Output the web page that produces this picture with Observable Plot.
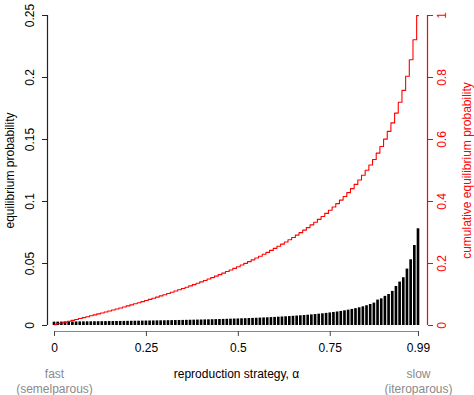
<!DOCTYPE html>
<html>
<head>
<meta charset="utf-8">
<script src="https://cdn.jsdelivr.net/npm/d3@7"></script>
<script src="https://cdn.jsdelivr.net/npm/@observablehq/plot@0.6"></script>
<style>
  html, body { margin: 0; padding: 0; background: white; }
</style>
</head>
<body>
<div id="chart"></div>
<script>
// reproduction strategy categories (alpha)
const alphas = [
  0.00,0.01,0.02,0.03,0.04,0.05,0.06,0.07,0.08,0.09,
  0.10,0.11,0.12,0.13,0.14,0.15,0.16,0.17,0.18,0.19,
  0.20,0.21,0.22,0.23,0.24,0.25,0.26,0.27,0.28,0.29,
  0.30,0.31,0.32,0.33,0.34,0.35,0.36,0.37,0.38,0.39,
  0.40,0.41,0.42,0.43,0.44,0.45,0.46,0.47,0.48,0.49,
  0.50,0.51,0.52,0.53,0.54,0.55,0.56,0.57,0.58,0.59,
  0.60,0.61,0.62,0.63,0.64,0.65,0.66,0.67,0.68,0.69,
  0.70,0.71,0.72,0.73,0.74,0.75,0.76,0.77,0.78,0.79,
  0.80,0.81,0.82,0.83,0.84,0.85,0.86,0.87,0.88,0.89,
  0.90,0.91,0.92,0.93,0.94,0.95,0.96,0.97,0.98,0.99
];
// equilibrium probability per alpha
const probs = [
  0.00270,0.00273,0.00276,0.00278,0.00281,0.00284,0.00287,0.00290,0.00293,0.00297,
  0.00300,0.00303,0.00306,0.00310,0.00313,0.00317,0.00321,0.00324,0.00328,0.00332,
  0.00336,0.00340,0.00345,0.00349,0.00354,0.00358,0.00363,0.00368,0.00373,0.00377,
  0.00382,0.00388,0.00394,0.00399,0.00405,0.00411,0.00417,0.00424,0.00430,0.00437,
  0.00444,0.00451,0.00459,0.00466,0.00474,0.00482,0.00491,0.00500,0.00510,0.00519,
  0.00529,0.00539,0.00550,0.00561,0.00572,0.00584,0.00597,0.00610,0.00624,0.00638,
  0.00653,0.00669,0.00686,0.00703,0.00722,0.00741,0.00762,0.00783,0.00806,0.00830,
  0.00856,0.00883,0.00912,0.00943,0.00976,0.01012,0.01050,0.01091,0.01135,0.01185,
  0.01239,0.01297,0.01360,0.01430,0.01508,0.01596,0.01695,0.01804,0.02050,0.02150,
  0.02350,0.02500,0.02750,0.03150,0.03500,0.03850,0.04550,0.05300,0.06450,0.07800
];
const leftTicks = [0, 0.05, 0.1, 0.15, 0.2, 0.25];
const leftLabels = ["0", "0.05", "0.1", "0.15", "0.2", "0.25"];
const rightTicks = [0, 0.2, 0.4, 0.6, 0.8, 1];
const rightLabels = ["0", "0.2", "0.4", "0.6", "0.8", "1"];
const xTicks = [0, 0.25, 0.5, 0.75, 0.99];
const xLabels = ["0", "0.25", "0.5", "0.75", "0.99"];

const cum = d3.cumsum(probs);
const data = alphas.map((a, i) => ({alpha: a, p: probs[i], cum: cum[i]}));

const xDomain = [-0.01904, 1.01448];
const yDomain = [-0.00484, 0.25];
const ratio = 0.25; // right axis (0..1) mapped onto left (0..0.25)
const half = 0.0036;
const red = "#ff0000";
const gray = "#8a8a8a";

const chart = Plot.plot({
  width: 474,
  height: 395,
  marginLeft: 47,
  marginRight: 47,
  marginTop: 15,
  marginBottom: 64,
  style: {fontFamily: "'Liberation Sans', Arial, Helvetica, sans-serif", fontSize: "12px", background: "white", overflow: "visible"},
  x: {domain: xDomain, axis: null},
  y: {domain: yDomain, axis: null},
  marks: [
    Plot.rectY(data, {x1: d => d.alpha - half, x2: d => d.alpha + half, y: "p", fill: "black"}),
    Plot.line(data, {x: "alpha", y: d => d.cum * ratio, stroke: red, strokeWidth: 1.1, curve: "step"}),
    // left axis
    Plot.ruleX([xDomain[0]], {y1: 0, y2: 0.25, stroke: "#222", strokeWidth: 1.2}),
    Plot.axisY({anchor: "left", label: null, ticks: leftTicks, tickSize: 5, tickFormat: () => "", stroke: "#222"}),
    Plot.text(leftTicks, {y: d => d, text: (d, i) => leftLabels[i], frameAnchor: "left", textAnchor: "middle", dx: -17, rotate: -90, fill: "black"}),
    Plot.text(["equilibrium probability"], {y: 0.125, text: d => d, frameAnchor: "left", textAnchor: "middle", dx: -37, rotate: -90, fill: "black"}),
    // right axis
    Plot.ruleX([xDomain[1]], {y1: 0, y2: 0.25, stroke: red, strokeWidth: 1.2}),
    Plot.axisY({anchor: "right", label: null, ticks: rightTicks.map(t => t * ratio), tickSize: 5, tickFormat: () => "", stroke: red, color: red}),
    Plot.text(rightTicks, {y: d => d * ratio, text: (d, i) => rightLabels[i], frameAnchor: "right", textAnchor: "middle", dx: 15, rotate: -90, fill: red}),
    Plot.text(["cumulative equilibrium probability"], {y: 0.125, text: d => d, frameAnchor: "right", textAnchor: "middle", dx: 40, rotate: -90, fill: red}),
    // bottom axis
    Plot.ruleY([yDomain[0]], {x1: 0, x2: 0.99, stroke: "#888"}),
    Plot.axisX({anchor: "bottom", label: null, ticks: xTicks, tickSize: 5, tickPadding: 7, tickFormat: (d, i) => xLabels[i], stroke: "#444", fill: "black"}),
    Plot.text(["reproduction strategy, \u03b1"], {x: 0.495, text: d => d, frameAnchor: "bottom", dy: 46, fill: "black"}),
    Plot.text(["fast"], {x: 0, text: d => d, frameAnchor: "bottom", dy: 46, fill: gray}),
    Plot.text(["(semelparous)"], {x: 0, text: d => d, frameAnchor: "bottom", dy: 61, fill: gray}),
    Plot.text(["slow"], {x: 0.99, text: d => d, frameAnchor: "bottom", dy: 46, fill: gray}),
    Plot.text(["(iteroparous)"], {x: 0.99, text: d => d, frameAnchor: "bottom", dy: 61, fill: gray})
  ]
});
document.getElementById("chart").appendChild(chart);
</script>
</body>
</html>
